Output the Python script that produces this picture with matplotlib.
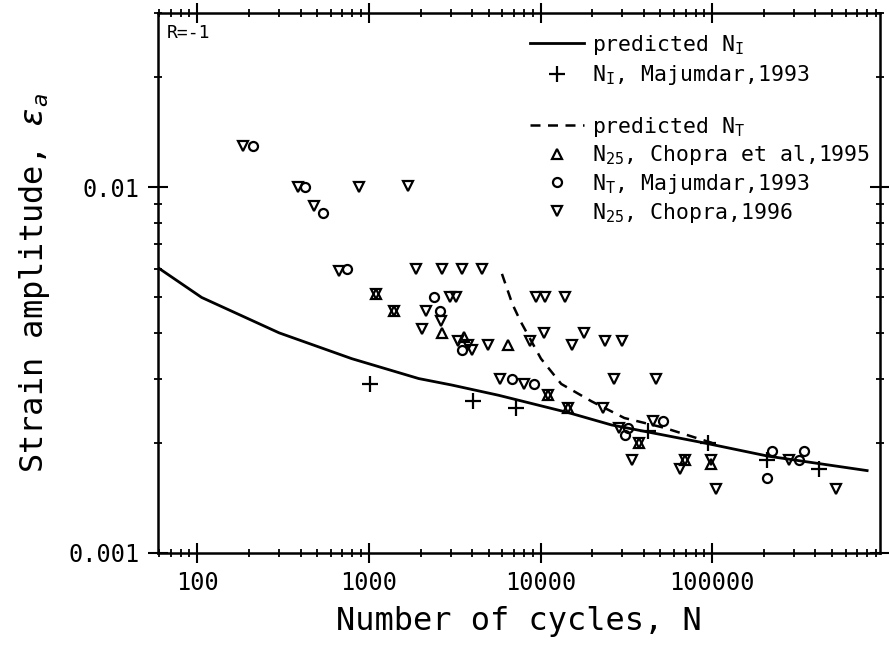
import numpy as np
import matplotlib
matplotlib.use('Agg')
import matplotlib.pyplot as plt
from matplotlib.ticker import LogLocator, NullFormatter
from matplotlib.lines import Line2D

plt.rcParams['font.family'] = ['DejaVu Sans Mono', 'DejaVu Sans']
plt.rcParams['mathtext.fontset'] = 'custom'
plt.rcParams['mathtext.rm'] = 'DejaVu Sans Mono'
plt.rcParams['mathtext.it'] = 'DejaVu Sans Mono:italic'
plt.rcParams['mathtext.bf'] = 'DejaVu Sans Mono:bold'

# predicted curves
pred_i_n = [60, 106, 300, 795, 1950, 3040, 5700, 14550, 25900, 90000, 212000, 800000]
pred_i_e = [0.0060, 0.0050, 0.0040, 0.0034, 0.0030, 0.00288, 0.0027, 0.00242,
            0.00224, 0.0020, 0.00184, 0.00168]
pred_t_n = [5960, 6850, 7650, 10060, 13200, 19800, 30800, 52600, 100000]
pred_t_e = [0.0058, 0.0048, 0.0043, 0.0034, 0.0029, 0.0026, 0.00234, 0.0022, 0.0020]

# N_I, Majumdar 1993 (+)
maj_i_n = [1015, 4030, 7200, 42500, 95000, 209000, 420000]
maj_i_e = [0.0029, 0.0026, 0.0025, 0.00215, 0.0020, 0.0018, 0.0017]

# N25, Chopra et al 1995 (triangle up)
cho95_n = [1100, 1400, 2670, 3600, 6450, 11000, 14500, 37700, 69100, 99000]
cho95_e = [0.0051, 0.0046, 0.0040, 0.0039, 0.0037, 0.0027, 0.0025, 0.0020, 0.0018, 0.00175]

# N_T, Majumdar 1993 (circle)
maj_t_n = [212, 422, 540, 742, 2380, 2590, 3500, 6850, 9200, 30900, 32500, 51800,
           210000, 223000, 321000, 342000]
maj_t_e = [0.013, 0.0100, 0.0085, 0.0060, 0.0050, 0.0046, 0.0036, 0.0030, 0.0029,
           0.0021, 0.0022, 0.0023, 0.0016, 0.0019, 0.0018, 0.0019]

# N25, Chopra 1996 (triangle down)
cho96_n = [185, 385, 478, 667, 880, 1100, 1400, 1700, 1890, 2040, 2150, 2630, 2670,
           2950, 3200, 3300, 3490, 3800, 4000, 4560, 4940, 5830, 8050, 8650, 9400,
           10500, 10600, 11000, 13900, 14500, 15200, 17800, 23200, 23900, 26700,
           28500, 30000, 34000, 37700, 45400, 46900, 64700, 69100, 99000, 105000,
           281000, 528000]
cho96_e = [0.013, 0.0100, 0.0089, 0.0059, 0.010, 0.0051, 0.0046, 0.0101, 0.0060,
           0.0041, 0.0046, 0.0043, 0.0060, 0.0050, 0.0050, 0.0038, 0.0060, 0.0037,
           0.0036, 0.0060, 0.0037, 0.0030, 0.0029, 0.0038, 0.0050, 0.0040, 0.0050,
           0.0027, 0.0050, 0.0025, 0.0037, 0.0040, 0.0025, 0.0038, 0.0030, 0.0022,
           0.0038, 0.0018, 0.0020, 0.0023, 0.0030, 0.0017, 0.0018, 0.0018, 0.0015,
           0.0018, 0.0015]

x_ticks = [100, 1000, 10000, 100000]
x_tick_labels = ['100', '1000', '10000', '100000']
y_ticks = [0.001, 0.01]
y_tick_labels = ['0.001', '0.01']

fig = plt.figure(figsize=(8.89, 6.46), dpi=100)
ax = fig.add_axes([0.1777, 0.144, 0.8121, 0.8359])
ax.set_xscale('log')
ax.set_yscale('log')

ax.plot(pred_i_n, pred_i_e, color='k', lw=2.0)
ax.plot(pred_t_n, pred_t_e, color='k', lw=1.8, ls=(0, (4, 3)))

mk = dict(ls='none', color='k', mfc='none', mew=1.6)
ax.plot(maj_i_n, maj_i_e, marker='+', ms=12, **mk)
ax.plot(cho95_n, cho95_e, marker='^', ms=6.5, **mk)
ax.plot(maj_t_n, maj_t_e, marker='o', ms=6.5, **mk)
ax.plot(cho96_n, cho96_e, marker='v', ms=6.5, **mk)

ax.set_xlim(59, 9.5e5)
ax.set_ylim(0.001, 0.03)

ax.set_xticks(x_ticks)
ax.set_xticklabels(x_tick_labels)
ax.set_yticks(y_ticks)
ax.set_yticklabels(y_tick_labels)
ax.xaxis.set_minor_locator(LogLocator(base=10, subs=np.arange(2, 10), numticks=20))
ax.yaxis.set_minor_locator(LogLocator(base=10, subs=np.arange(2, 10), numticks=20))
ax.xaxis.set_minor_formatter(NullFormatter())
ax.yaxis.set_minor_formatter(NullFormatter())
ax.tick_params(which='major', direction='inout', length=14, width=1.5,
               top=True, right=True, labelsize=17, pad=6)
ax.tick_params(which='minor', direction='inout', length=6, width=1.3,
               top=True, right=True)
for s in ax.spines.values():
    s.set_linewidth(1.8)

ax.set_xlabel('Number of cycles, N', fontsize=23, labelpad=8)
ax.set_ylabel(r'Strain amplitude, $\varepsilon_a$', fontsize=23, labelpad=12)

ax.text(0.012, 0.963, 'R=-1', transform=ax.transAxes, fontsize=13,
        va='center', ha='left')

h1 = [Line2D([], [], color='k', lw=2.0),
      Line2D([], [], marker='+', ms=12, **mk)]
l1 = [r'predicted N$_\mathrm{I}$', r'N$_\mathrm{I}$, Majumdar,1993']
leg1 = ax.legend(h1, l1, loc='upper left', bbox_to_anchor=(0.515, 0.963),
                 frameon=False, fontsize=15.5, handlelength=2.5, handletextpad=0.4,
                 borderpad=0, borderaxespad=0, labelspacing=0.3)
ax.add_artist(leg1)

h2 = [Line2D([], [], color='k', lw=1.8, ls=(0, (4, 3))),
      Line2D([], [], marker='^', ms=6.5, **mk),
      Line2D([], [], marker='o', ms=6.5, **mk),
      Line2D([], [], marker='v', ms=6.5, **mk)]
l2 = [r'predicted N$_\mathrm{T}$', r'N$_{25}$, Chopra et al,1995',
      r'N$_\mathrm{T}$, Majumdar,1993', r'N$_{25}$, Chopra,1996']
ax.legend(h2, l2, loc='upper left', bbox_to_anchor=(0.515, 0.812),
          frameon=False, fontsize=15.5, handlelength=2.5, handletextpad=0.4,
          borderpad=0, borderaxespad=0, labelspacing=0.22)

fig.savefig('out.png', dpi=100)
